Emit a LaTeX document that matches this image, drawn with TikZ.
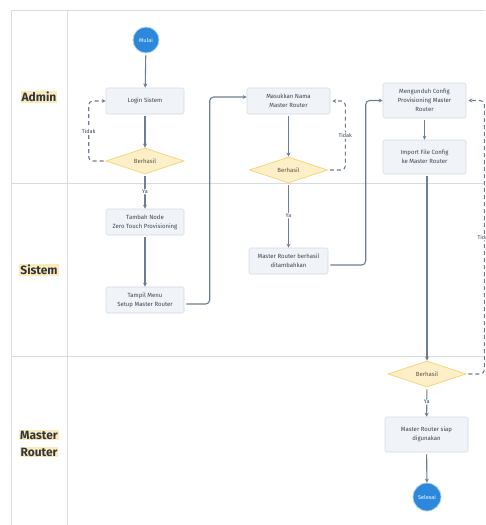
\documentclass[tikz,border=0pt]{standalone}
\usepackage{fontspec}
\setmainfont{Fira Sans}
\usetikzlibrary{shapes.geometric,arrows.meta}
\definecolor{lane}{HTML}{D6DCE4}
\definecolor{boxfill}{HTML}{F0F3F7}
\definecolor{boxline}{HTML}{D5DCE4}
\definecolor{dfill}{HTML}{FDF0C9}
\definecolor{dline}{HTML}{F5D77A}
\definecolor{blueC}{HTML}{2B88DA}
\definecolor{arrowC}{HTML}{6E7E90}
\definecolor{txt}{HTML}{3E4652}
\definecolor{dtxt}{HTML}{5E5440}
\definecolor{hl}{HTML}{FCEBB6}
\definecolor{lbl}{HTML}{2E3641}
\begin{document}
\begin{tikzpicture}[x=1pt,y=-1pt,
 procbox/.style={draw=boxline, fill=boxfill, line width=0.6pt, rounded corners=1.5pt, minimum width=78pt, minimum height=26pt, align=center, font=\fontsize{6}{9}\selectfont, text=txt, inner sep=1pt},
 decision/.style={diamond, draw=dline, fill=dfill, line width=0.8pt, minimum width=78pt, minimum height=26pt, inner sep=0pt, aspect=3, font=\fontsize{6}{8}\selectfont, text=dtxt},
 terminal/.style={circle, fill=blueC, draw=blueC!35, line width=0.8pt, minimum size=26pt, inner sep=0pt, text=white, font=\fontsize{5.5}{7}\selectfont},
 flow/.style={draw=arrowC, line width=1.1pt, -{Stealth[length=4pt,width=4pt]}, shorten <=2pt, rounded corners=4pt},
 noflow/.style={flow, dash pattern=on 4pt off 3pt},
 edgelbl/.style={fill=white, inner sep=1pt, font=\fontsize{5.5}{7}\selectfont, text=txt},
 lanelbl/.style={fill=hl, inner sep=1pt, font=\fontsize{12}{14}\selectfont\bfseries, text=lbl},
 laneline/.style={draw=lane, line width=0.8pt}]

\clip (0,0) rectangle (485,525);
\fill[white] (0,0) rectangle (485,525);

% swimlanes
\draw[laneline] (11,530) -- (11,10) -- (490,10);
\draw[laneline] (67,10) -- (67,530);
\draw[laneline] (11,183) -- (490,183);
\draw[laneline] (11,356) -- (490,356);

\node[lanelbl] (lAdmin) at (39,97) {Admin};
\node[lanelbl] (lSistem) at (39,270) {Sistem};
\node[lanelbl] (lMR1) at (39,435) {Master};
\node[lanelbl] (lMR2) at (39,452) {Router};

% nodes
\node[terminal] (mulai) at (146,40) {Mulai};
\node[procbox] (login) at (145,101) {Login Sistem};
\node[decision] (b1) at (145,161) {Berhasil};
\node[procbox] (tambah) at (145,222) {Tambah Node\\Zero Touch Provisioning};
\node[procbox] (tampil) at (145,300) {Tampil Menu\\Setup Master Router};

\node[procbox, minimum width=83pt] (masuk) at (288.5,101) {Masukkan Nama\\Master Router};
\node[decision] (b2) at (288.5,170) {Berhasil};
\node[procbox, minimum width=79pt] (mrb) at (288.5,261) {Master Router berhasil\\ditambahkan};

\node[procbox, minimum width=83pt, minimum height=35pt] (meng) at (424.5,100.5) {Mengunduh Config\\Provisioning Master\\Router};
\node[procbox, minimum width=83pt, minimum height=34pt] (imp) at (424.5,157) {Import File Config\\ke Master Router};
\node[decision] (b3) at (427,374) {Berhasil};
\node[procbox, minimum width=83pt, minimum height=35pt] (siap) at (426.5,434.5) {Master Router siap\\digunakan};
\node[terminal, minimum size=28pt] (selesai) at (427,497) {Selesai};

% connectors
\draw[flow] (mulai) -- (login);
\draw[flow] (login) -- (b1);
\draw[noflow] (b1.west) -| node[pos=0.75,edgelbl]{Tidak} ([xshift=-17pt]login.west) -- (login.west);
\draw[flow] (b1) -- node[edgelbl]{Ya} (tambah);
\draw[flow] (tambah) -- (tampil);
\draw[flow] ([yshift=-4pt]tampil.east) -| ([xshift=-37pt,yshift=4pt]masuk.west) -- ([yshift=4pt]masuk.west);

\draw[flow] (masuk) -- (b2);
\draw[noflow, shorten >=2pt] (b2.east) -| node[pos=0.75,edgelbl]{Tidak} ([xshift=15pt]masuk.east) -- (masuk.east);
\draw[flow] (b2) -- node[edgelbl]{Ya} (mrb);
\draw[flow] ([yshift=-4pt]mrb.east) -| ([xshift=-17pt]meng.west) -- (meng.west);

\draw[flow] (meng) -- (imp);
\draw[flow] (imp.south -| b3.north) -- (b3.north);
\draw[noflow, shorten >=2pt] (b3.east) -| node[pos=0.75,edgelbl]{Tidak} ([xshift=18pt]meng.east) -- (meng.east);
\draw[flow] (b3) -- node[edgelbl]{Ya} (siap);
\draw[flow] (siap) -- (selesai);
\end{tikzpicture}
\end{document}
